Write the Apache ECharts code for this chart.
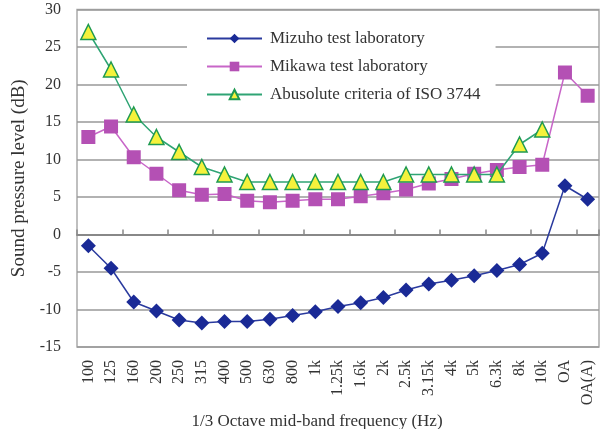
<!DOCTYPE html>
<html>
<head>
<meta charset="utf-8">
<script src="https://cdn.jsdelivr.net/npm/echarts@6/dist/echarts.min.js"></script>
<style>
  html, body { margin: 0; padding: 0; background: #fff; }
  #chart { width: 605px; height: 429px; }
</style>
</head>
<body>
<div id="chart"></div>
<script>
// 1/3 octave bands + overall values
const bands = ['100', '125', '160', '200', '250', '315', '400', '500', '630', '800', '1k',
  '1.25k', '1.6k', '2k', '2.5k', '3.15k', '4k', '5k', '6.3k', '8k', '10k', 'OA', 'OA(A)']

const mizuho = [-1.5, -4.5, -9.0, -10.2, -11.4, -11.8, -11.6, -11.6, -11.3, -10.8, -10.3,
  -9.6, -9.1, -8.4, -7.4, -6.6, -6.1, -5.5, -4.8, -4.0, -2.5, 6.5, 4.7]

const mikawa = [13.0, 14.4, 10.3, 8.1, 5.9, 5.3, 5.4, 4.5, 4.3, 4.5, 4.7,
  4.7, 5.1, 5.5, 6.0, 6.8, 7.4, 8.1, 8.6, 9.0, 9.3, 21.6, 18.5]

// ISO 3744 has no overall values
const iso3744 = [27, 22, 16, 13, 11, 9, 8, 7, 7, 7, 7,
  7, 7, 7, 8, 8, 8, 8, 8, 12, 14, null, null]

const yTicks = { min: -15, max: 30, interval: 5 }

const serif = '"Liberation Serif", "DejaVu Serif", serif'
const textColor = '#333'
const gridColor = '#999'

const chart = echarts.init(document.getElementById('chart'))

chart.setOption({
  animation: false,
  textStyle: { fontFamily: serif },
  grid: {
    left: 77,
    right: 6,
    top: 9.5,
    bottom: 82,
    outerBoundsMode: 'none',
    show: true,
    borderColor: '#aaa',
    borderWidth: 1.5,
  },
  legend: {
    left: 187,
    top: 20,
    orient: 'vertical',
    backgroundColor: '#fff',
    padding: [10, 15, 8, 19],
    itemWidth: 55,
    itemHeight: 12,
    itemGap: 11,
    textStyle: { fontFamily: serif, fontSize: 17, color: textColor, padding: [0, 0, 0, 3] },
    data: ['Mizuho test laboratory', 'Mikawa test laboratory', 'Abusolute criteria of ISO 3744'],
  },
  xAxis: [
    {
      type: 'category',
      data: bands,
      position: 'bottom',
      name: '1/3 Octave mid-band frequency (Hz)',
      nameLocation: 'middle',
      nameGap: 66,
      nameTextStyle: { fontFamily: serif, fontSize: 17, color: textColor, padding: [0, 42, 0, 0] },
      axisLine: { show: false, onZero: false },
      axisTick: { show: false },
      axisLabel: { rotate: 90, fontSize: 16, color: textColor, margin: 13, fontFamily: serif },
      splitLine: { show: false },
    },
    {
      type: 'category',
      data: bands,
      position: 'bottom',
      axisLine: { show: true, onZero: true, lineStyle: { color: '#888', width: 2 } },
      axisTick: { show: true, inside: true, length: 5, lineStyle: { color: '#888', width: 1.5 } },
      axisLabel: { show: false },
      splitLine: { show: false },
    },
  ],
  yAxis: {
    type: 'value',
    min: yTicks.min,
    max: yTicks.max,
    interval: yTicks.interval,
    name: 'Sound pressure level (dB)',
    nameLocation: 'middle',
    nameGap: 48,
    nameTextStyle: { fontFamily: serif, fontSize: 19, color: textColor },
    axisLine: { show: false },
    axisTick: { show: false },
    axisLabel: { fontSize: 16, color: textColor, margin: 16, fontFamily: serif },
    splitLine: { lineStyle: { color: gridColor, width: 1.5 } },
  },
  series: [
    {
      name: 'Mizuho test laboratory',
      type: 'line',
      data: mizuho,
      symbol: 'diamond',
      symbolSize: 15,
      lineStyle: { color: '#2a3a9e', width: 1.5 },
      itemStyle: { color: '#1a2a96' },
      z: 3,
    },
    {
      name: 'Mikawa test laboratory',
      type: 'line',
      data: mikawa,
      symbol: 'rect',
      symbolSize: 14,
      lineStyle: { color: '#c866c8', width: 1.5 },
      itemStyle: { color: '#b450b4' },
      z: 2,
    },
    {
      name: 'Abusolute criteria of ISO 3744',
      type: 'line',
      data: iso3744,
      symbol: 'triangle',
      symbolSize: 15,
      lineStyle: { color: '#2fa474', width: 1.5 },
      itemStyle: { color: '#f5f23c', borderColor: '#1f9a50', borderWidth: 1.5 },
      z: 4,
    },
  ],
})
</script>
</body>
</html>
